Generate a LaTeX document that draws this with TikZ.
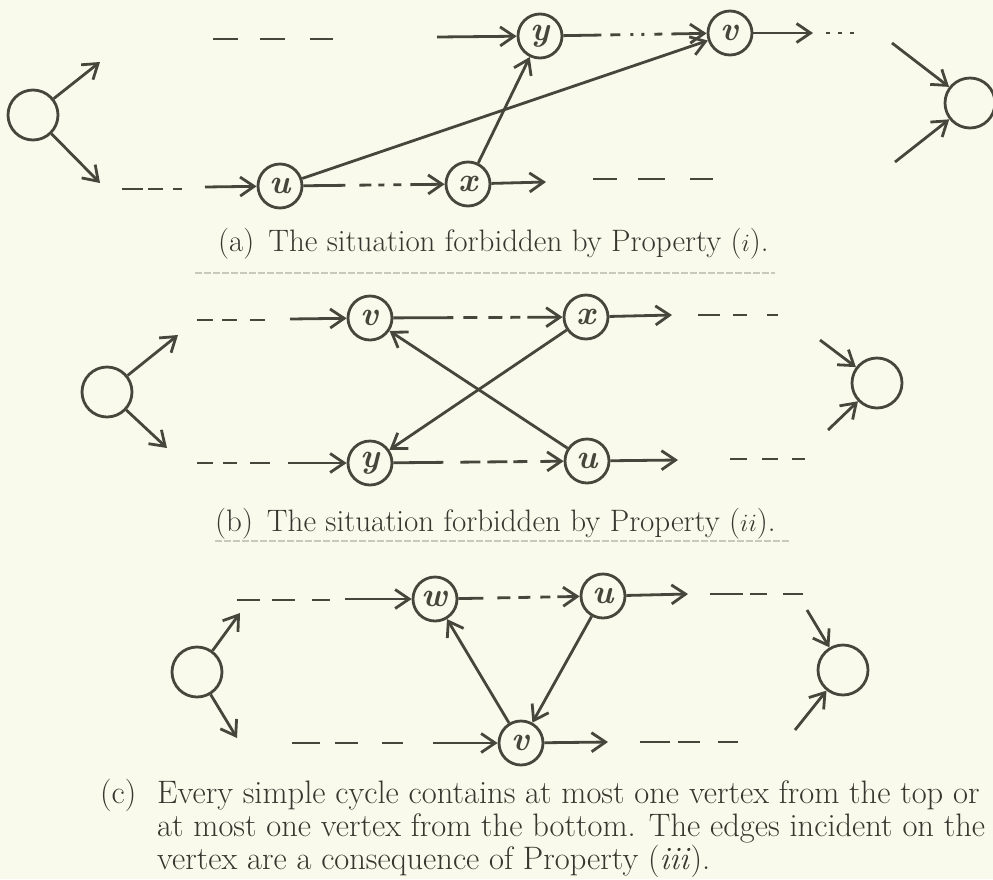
\documentclass[tikz,border=0pt]{standalone}
\usetikzlibrary{arrows.meta}
\definecolor{paper}{RGB}{250,250,236}
\definecolor{ink}{RGB}{70,70,60}
\definecolor{textink}{RGB}{55,55,48}
\definecolor{faint}{RGB}{200,200,188}
\begin{document}
\begin{tikzpicture}[x=1pt,y=-1pt,
  vtx/.style={circle,draw=ink,line width=2.8pt,minimum size=44pt,inner sep=0pt,
    font=\fontsize{34}{34}\selectfont\bfseries\itshape,text=ink},
  big/.style={circle,draw=ink,line width=2.8pt,minimum size=50pt,inner sep=0pt},
  edge/.style={draw=ink,line width=2.8pt,-{Straight Barb[length=14pt,width=19pt]}},
  stub/.style={draw=ink,line width=2.8pt},
  captxt/.style={inner sep=0pt,text=textink,font=\fontsize{31}{33}\selectfont},
  captxtc/.style={inner sep=0pt,text=textink,font=\fontsize{32.5}{33}\selectfont},
  sepline/.style={draw=faint,line width=1.2pt,dash pattern=on 7pt off 2pt},
]
\fill[paper] (0,0) rectangle (993,879);
\useasboundingbox (0,0) rectangle (993,879);

% ---------------- panel (a)
\node[big] (La) at (33,115) {};
\coordinate (La1) at (100,62);
\coordinate (La2) at (100,183);
\draw[edge] (La) -- (La1);
\draw[edge] (La) -- (La2);
\node[vtx] (ya) at (540,36) {y};
\node[vtx] (va) at (730,33) {v};
\node[vtx] (ua) at (280,186) {u};
\node[vtx] (xa) at (468,184) {x};
\node[big] (Ra) at (970,103) {};
\draw[stub,dash pattern=on 25pt off 22pt on 25pt off 25pt on 23pt off 50pt] (213,39) -- (333,39);
\coordinate (ta) at (437,37);
\draw[edge] (ta) -- (ya);
\draw[edge,dash pattern=on 38pt off 9pt on 10pt off 10pt on 3pt off 8pt on 3pt off 10pt on 8pt off 9pt on 100pt] (ya) -- (va);
\coordinate (va1) at (813,33);
\draw[edge] (va) -- (va1);
\draw[stub,dash pattern=on 4pt off 8pt] (826,33) -- (854,33);
\coordinate (Ra1) at (892,43);
\coordinate (Ra2) at (895,162);
\draw[edge] (Ra1) -- (Ra);
\draw[edge] (Ra2) -- (Ra);
\draw[stub,dash pattern=on 21pt off 5pt on 15pt off 10pt on 9pt off 50pt] (122,189) -- (182,189);
\coordinate (ta2) at (205,187);
\draw[edge] (ta2) -- (ua);
\draw[edge,dash pattern=on 42pt off 14pt on 12pt off 7pt on 6pt off 9pt on 8pt off 9pt on 100pt] (ua) -- (xa);
\coordinate (xa1) at (546,182);
\draw[edge] (xa) -- (xa1);
\draw[stub,dash pattern=on 24pt off 21pt on 27pt off 25pt on 23pt off 50pt] (593,179) -- (713,179);
\draw[edge] (ua) -- (va);
\draw[edge] (xa) -- (ya);
\node[captxt,anchor=base west] (capa) at (218,251) {(a)\hspace{14pt}The situation forbidden by Property ($i$).};
\draw[sepline] (195,273) -- (775,273);

% ---------------- panel (b)
\node[big] (Lb) at (107,392) {};
\coordinate (Lb1) at (178,335);
\coordinate (Lb2) at (167,448);
\draw[edge] (Lb) -- (Lb1);
\draw[edge] (Lb) -- (Lb2);
\node[vtx] (vb) at (370,318) {v};
\node[vtx] (xb) at (586,317) {x};
\node[vtx] (yb) at (370,463) {y};
\node[vtx] (ub) at (587,461) {u};
\node[big] (Rb) at (877,383) {};
\draw[stub,dash pattern=on 16pt off 9pt on 15pt off 13pt on 15pt off 50pt] (197,320) -- (265,320);
\coordinate (tb) at (290,319);
\draw[edge] (tb) -- (vb);
\draw[edge,dash pattern=on 60pt off 10pt on 14pt off 11pt on 14pt off 8pt on 10pt off 7pt on 100pt] (vb) -- (xb);
\coordinate (xb1) at (672,315);
\draw[edge] (xb) -- (xb1);
\draw[stub,dash pattern=on 22pt off 13pt on 14pt off 20pt on 11pt off 50pt] (698,315) -- (778,315);
\coordinate (Rb1) at (820,340);
\coordinate (Rb2) at (828,430);
\draw[edge] (Rb1) -- (Rb);
\draw[edge] (Rb2) -- (Rb);
\draw[stub,dash pattern=on 16pt off 10pt on 14pt off 13pt on 20pt off 50pt] (197,463) -- (270,463);
\coordinate (bb) at (288,463);
\draw[edge] (bb) -- (yb);
\draw[edge,dash pattern=on 50pt off 17pt on 20pt off 7pt on 20pt off 6pt on 14pt off 13pt on 100pt] (yb) -- (ub);
\coordinate (ub1) at (678,460);
\draw[edge] (ub) -- (ub1);
\draw[stub,dash pattern=on 17pt off 15pt on 16pt off 14pt on 13pt off 50pt] (730,459) -- (805,459);
\draw[edge] (xb) -- (yb);
\draw[edge] (ub) -- (vb);
\node[captxt,anchor=base west] (capb) at (215,531) {(b)\hspace{14pt}The situation forbidden by Property ($ii$).};
\draw[sepline] (215,541) -- (790,541);

% ---------------- panel (c)
\node[big] (Lc) at (197,672) {};
\coordinate (Lc1) at (240,613);
\coordinate (Lc2) at (237,738);
\draw[edge] (Lc) -- (Lc1);
\draw[edge] (Lc) -- (Lc2);
\node[vtx] (wc) at (435,599) {w};
\node[vtx] (uc) at (603,596) {u};
\node[vtx] (vc) at (521,743) {v};
\node[big] (Rc) at (843,670) {};
\draw[stub,dash pattern=on 23pt off 12pt on 23pt off 17pt on 18pt off 50pt] (237,600) -- (330,600);
\coordinate (tc) at (345,599);
\draw[edge] (tc) -- (wc);
\draw[edge,dash pattern=on 25pt off 14pt on 13pt off 8pt on 12pt off 10pt on 10pt off 7pt on 100pt] (wc) -- (uc);
\coordinate (uc1) at (688,594);
\draw[edge] (uc) -- (uc1);
\draw[stub,dash pattern=on 33pt off 7pt on 17pt off 16pt on 20pt off 50pt] (710,594) -- (803,594);
\coordinate (Rc1) at (807,610);
\coordinate (Rc2) at (795,730);
\draw[edge] (Rc1) -- (Rc);
\draw[edge] (Rc2) -- (Rc);
\draw[stub,dash pattern=on 28pt off 15pt on 23pt off 24pt on 21pt off 50pt] (292,743) -- (403,743);
\coordinate (bc) at (433,743);
\draw[edge] (bc) -- (vc);
\coordinate (vc1) at (608,742);
\draw[edge] (vc) -- (vc1);
\draw[stub,dash pattern=on 30pt off 8pt on 22pt off 18pt on 20pt off 50pt] (640,742) -- (738,742);
\draw[edge] (vc) -- (wc);
\draw[edge] (uc) -- (vc);
\node[captxtc,anchor=base west] (capc) at (100,803) {(c)};
\node[captxtc,anchor=base west] (capc1) at (157,803) {Every simple cycle contains at most one vertex from the top or};
\node[captxtc,anchor=base west] (capc2) at (157,836) {at most one vertex from the bottom. The edges incident on the};
\node[captxtc,anchor=base west] (capc3) at (157,869) {vertex are a consequence of Property (\textit{iii}).};
\end{tikzpicture}
\end{document}
